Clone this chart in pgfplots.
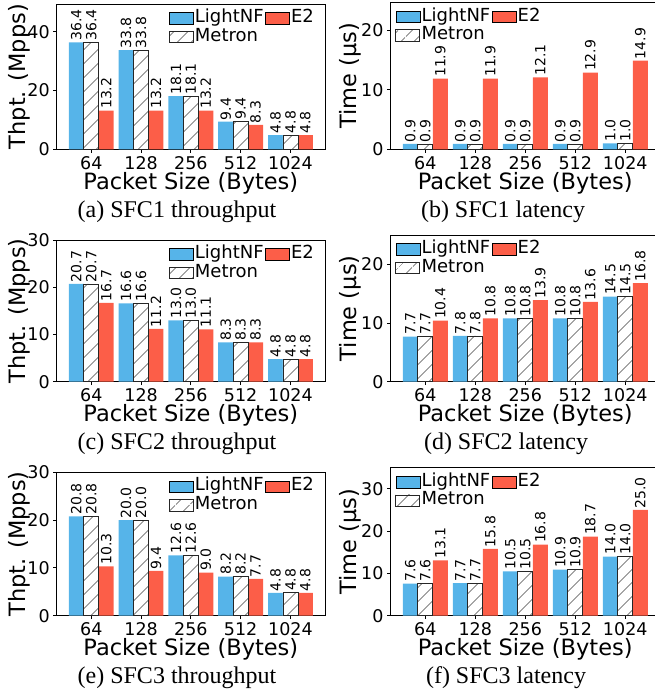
\documentclass[border=0pt]{standalone}
\usepackage{fontspec}
\setmainfont{DejaVu Sans}
\newfontfamily\capfont{Liberation Serif}
\usepackage{pgfplots}
\pgfplotsset{compat=1.18}
\usetikzlibrary{patterns.meta}
\definecolor{cBlue}{HTML}{56B4E9}
\definecolor{cRed}{HTML}{FC5E48}
\pgfplotsset{
 legimg/.style={legend image code/.code={\draw[##1] (0pt,-5.75pt) rectangle (24pt,5.75pt);}},
 sblue/.style={fill=cBlue, draw=none, bar shift=-0.3, legimg},
 sred/.style={fill=cRed, draw=none, bar shift=0.3, legimg},
 shatch/.style={fill=white, draw=black!85, line width=0.7pt, bar shift=0,
   postaction={pattern={Lines[angle=45,distance=10.5pt,line width=0.6pt]}}, legimg},
 barplot/.style={
  scale only axis, ymin=0, xmin=-0.695, xmax=4.695, enlargelimits=false,
  ybar, bar width=0.3,
  xtick={0,1,2,3,4}, xticklabels={64,128,256,512,1024},
  xtick pos=bottom, ytick pos=left, tick align=outside,
  major tick length=3.5pt, tick style={black, line width=0.8pt},
  axis line style={black, line width=0.8pt},
  ticklabel style={font=\fontsize{17.5}{20}\selectfont},
  /pgf/number format/assume math mode=true,
  xlabel={Packet Size (Bytes)},
  label style={font=\fontsize{22.5}{25}\selectfont},
  xlabel style={at={(axis description cs:0.5,0)}, anchor=center, yshift=-34pt},
  nodes near coords={\pgfmathprintnumber[fixed,fixed zerofill,precision=1,assume math mode=true]{\pgfplotspointmeta}},
  every node near coord/.append style={rotate=90, anchor=west, font=\fontsize{14}{16}\selectfont, inner sep=1.5pt, text=black},
  legend columns=2,
  legend style={draw=none, fill=none, inner sep=0pt, at={(axis description cs:0,1)}, anchor=north west,
    nodes={inner sep=1.5pt, text height=12pt, text depth=3.5pt, font=\fontsize{18}{20}\selectfont},
    /tikz/every even column/.append style={column sep=0pt}},
  legend cell align=left,
 },
 leftcol/.style={width=268.3pt, ylabel style={at={(axis description cs:-0.1405,0.5)}, anchor=center},
   legend style={xshift=111.8pt, yshift=-5pt}},
 rightcol/.style={width=269.5pt, ylabel style={at={(axis description cs:-0.150,0.5)}, anchor=center},
   legend style={xshift=4.7pt, yshift=-5pt}},
}
\begin{document}
\begin{tikzpicture}[x=1pt,y=1pt]
\path[use as bounding box] (0,0) rectangle (655,693);
\clip (0,0) rectangle (655,693);
% (a)
\begin{axis}[barplot, leftcol, at={(56.7pt,543.7pt)}, anchor=south west, height=145.3pt,
  ymax=49.5, ytick={0,20,40}, ylabel={Thpt. (Mpps)}]
\addplot[sblue] coordinates {(0,36.4) (1,33.8) (2,18.1) (3,9.4) (4,4.8)};
\addplot[sred] coordinates {(0,13.2) (1,13.2) (2,13.2) (3,8.3) (4,4.8)};
\addplot[shatch] coordinates {(0,36.4) (1,33.8) (2,18.1) (3,9.4) (4,4.8)};
\legend{LightNF,E2,Metron}
\end{axis}
% (b)
\begin{axis}[barplot, rightcol, at={(390.5pt,543.7pt)}, anchor=south west, height=146.8pt,
  ymax=24.7, ytick={0,10,20}, ylabel={Time (µs)}]
\addplot[sblue] coordinates {(0,0.9) (1,0.9) (2,0.9) (3,0.9) (4,1.0)};
\addplot[sred] coordinates {(0,11.9) (1,11.9) (2,12.1) (3,12.9) (4,14.9)};
\addplot[shatch] coordinates {(0,0.9) (1,0.9) (2,0.9) (3,0.9) (4,1.0)};
\legend{LightNF,E2,Metron}
\end{axis}
% (c)
\begin{axis}[barplot, leftcol, at={(56.7pt,311.3pt)}, anchor=south west, height=141.7pt,
  ymax=30, ytick={0,10,20,30}, ylabel={Thpt. (Mpps)}]
\addplot[sblue] coordinates {(0,20.7) (1,16.6) (2,13.0) (3,8.3) (4,4.8)};
\addplot[sred] coordinates {(0,16.7) (1,11.2) (2,11.1) (3,8.3) (4,4.8)};
\addplot[shatch] coordinates {(0,20.7) (1,16.6) (2,13.0) (3,8.3) (4,4.8)};
\legend{LightNF,E2,Metron}
\end{axis}
% (d)
\begin{axis}[barplot, rightcol, at={(390.5pt,311.3pt)}, anchor=south west, height=146.7pt,
  ymax=25, ytick={0,10,20}, ylabel={Time (µs)}]
\addplot[sblue] coordinates {(0,7.7) (1,7.8) (2,10.8) (3,10.8) (4,14.5)};
\addplot[sred] coordinates {(0,10.4) (1,10.8) (2,13.9) (3,13.6) (4,16.8)};
\addplot[shatch] coordinates {(0,7.7) (1,7.8) (2,10.8) (3,10.8) (4,14.5)};
\legend{LightNF,E2,Metron}
\end{axis}
% (e)
\begin{axis}[barplot, leftcol, at={(56.7pt,77.3pt)}, anchor=south west, height=143.4pt,
  ymax=30, ytick={0,10,20,30}, ylabel={Thpt. (Mpps)}]
\addplot[sblue] coordinates {(0,20.8) (1,20.0) (2,12.6) (3,8.2) (4,4.8)};
\addplot[sred] coordinates {(0,10.3) (1,9.4) (2,9.0) (3,7.7) (4,4.8)};
\addplot[shatch] coordinates {(0,20.8) (1,20.0) (2,12.6) (3,8.2) (4,4.8)};
\legend{LightNF,E2,Metron}
\end{axis}
% (f)
\begin{axis}[barplot, rightcol, at={(390.5pt,77.3pt)}, anchor=south west, height=148pt,
  ymax=35, ytick={0,10,20,30}, ylabel={Time (µs)}]
\addplot[sblue] coordinates {(0,7.6) (1,7.7) (2,10.5) (3,10.9) (4,14.0)};
\addplot[sred] coordinates {(0,13.1) (1,15.8) (2,16.8) (3,18.7) (4,25.0)};
\addplot[shatch] coordinates {(0,7.6) (1,7.7) (2,10.5) (3,10.9) (4,14.0)};
\legend{LightNF,E2,Metron}
\end{axis}
\begin{scope}[every node/.style={font=\capfont\fontsize{24}{26}\selectfont, anchor=base}]
\node at (177,475.7) {(a) SFC1 throughput};
\node at (503,475.7) {(b) SFC1 latency};
\node at (177,243.3) {(c) SFC2 throughput};
\node at (506,243.3) {(d) SFC2 latency};
\node at (177,9.5) {(e) SFC3 throughput};
\node at (506,9.5) {(f) SFC3 latency};
\end{scope}
\end{tikzpicture}
\end{document}
